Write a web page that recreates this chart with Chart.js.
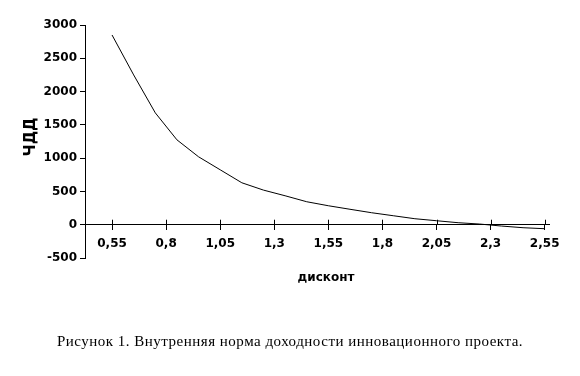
<!DOCTYPE html>
<html><head><meta charset="utf-8">
<script src="https://cdn.jsdelivr.net/npm/chart.js@4/dist/chart.umd.min.js"></script>
<style>
html,body{margin:0;padding:0;background:#fff;}
#wrap{position:relative;width:580px;height:376px;}
#caption{position:absolute;left:0;top:333px;width:580px;text-align:center;font-family:"Liberation Serif","Times New Roman",serif;font-size:15px;letter-spacing:0.5px;color:#000;}
</style></head>
<body>
<div id="wrap"><canvas id="c" width="580" height="376"></canvas>
<div id="caption">Рисунок 1. Внутренняя норма доходности инновационного проекта.</div></div>
<script>
const discount = [0.55,0.65,0.75,0.85,0.95,1.05,1.15,1.25,1.35,1.45,1.55,1.65,1.75,1.85,1.95,2.05,2.15,2.25,2.35,2.45,2.55];
const npv = [2850,2250,1680,1275,1020,825,630,520,435,345,285,232,180,135,90,60,30,10,-20,-45,-60];
const xTickValues = [0.55,0.8,1.05,1.3,1.55,1.8,2.05,2.3,2.55];
const xTickLabels = ['0,55','0,8','1,05','1,3','1,55','1,8','2,05','2,3','2,55'];
const yTitle = 'ЧДД';
const xTitle = 'дисконт';

const tickFont = {family:'"DejaVu Sans"', size:12, weight:'bold'};

const extras = {
  id:'extras',
  afterDraw(chart){
    const ctx = chart.ctx, xs = chart.scales.x, ys = chart.scales.y;
    const y0 = ys.getPixelForValue(0);
    ctx.save();
    ctx.strokeStyle='#000'; ctx.lineWidth=1;
    xTickValues.forEach(v=>{
      const px = Math.round(xs.getPixelForValue(v))+0.5;
      ctx.beginPath(); ctx.moveTo(px, y0-5); ctx.lineTo(px, y0); ctx.stroke();
    });
    ctx.fillStyle='#000';
    ctx.font='bold 15px "DejaVu Sans"';
    ctx.translate(31,137); ctx.rotate(-Math.PI/2);
    ctx.textAlign='center'; ctx.textBaseline='middle';
    ctx.fillText(yTitle,0,0);
    ctx.restore();
    ctx.save();
    ctx.fillStyle='#000';
    ctx.font='bold 12px "DejaVu Sans"';
    ctx.textAlign='center'; ctx.textBaseline='middle';
    ctx.fillText(xTitle,326,278);
    ctx.restore();
  }
};

new Chart(document.getElementById('c'), {
  type:'line',
  data:{datasets:[{data:discount.map((d,i)=>({x:d,y:npv[i]})), borderColor:'#000', borderWidth:1, pointRadius:0, tension:0, fill:false}]},
  options:{
    responsive:false, animation:false,
    layout:{padding:{left:0,top:25,right:31,bottom:118}},
    plugins:{legend:{display:false}, tooltip:{enabled:false}},
    scales:{
      x:{type:'linear', position:{y:0}, min:0.425, max:2.57,
        afterBuildTicks(s){ s.ticks = xTickValues.map(v=>({value:v})); },
        ticks:{font:tickFont, color:'#000', padding:7, maxRotation:0, autoSkip:false,
          callback(v){ const i = xTickValues.findIndex(t=>Math.abs(t-v)<1e-6); return i>=0?xTickLabels[i]:''; }},
        grid:{drawOnChartArea:false, tickLength:5, color:'#000'},
        border:{color:'#000', width:1}
      },
      y:{min:-500, max:3000,
        afterFit(s){ s.width = 85; },
        ticks:{stepSize:500, font:tickFont, color:'#000', padding:3, callback(v){ return String(v); }},
        grid:{drawOnChartArea:false, tickLength:5, color:'#000'},
        border:{color:'#000', width:1}
      }
    }
  },
  plugins:[extras]
});
</script>
</body></html>
